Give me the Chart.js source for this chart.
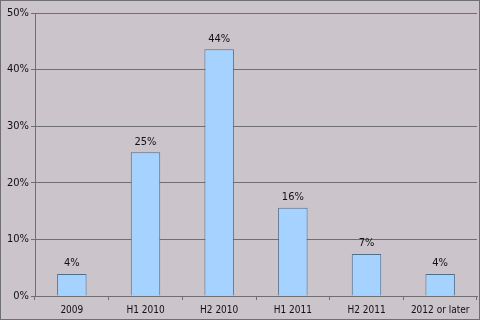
<!DOCTYPE html>
<html>
<head>
<meta charset="utf-8">
<script src="https://cdn.jsdelivr.net/npm/chart.js@4"></script>
<style>
    html, body { margin: 0; padding: 0; background: #fff; }
    #wrap { width: 478px; height: 318px; border: 1px solid #6f6f6f; background: #cbc4cb; }
</style>
</head>
<body>
<div id="wrap"><canvas id="barChart" width="478" height="318"></canvas></div>
<script>
const categories = ['2009', 'H1 2010', 'H2 2010', 'H1 2011', 'H2 2011', '2012 or later'];
const shares = [3.9, 25.4, 43.6, 15.6, 7.4, 3.9];
const yTicks = [0, 10, 20, 30, 40, 50];
const fontFamily = '"DejaVu Sans Condensed", "DejaVu Sans"';

const barLabels = {
    id: 'barLabels',
    afterDatasetsDraw(chart) {
        const ctx = chart.ctx;
        ctx.save();
        ctx.font = '11px ' + fontFamily;
        ctx.fillStyle = '#111';
        ctx.textAlign = 'center';
        ctx.textBaseline = 'bottom';
        chart.getDatasetMeta(0).data.forEach(function (bar, i) {
            ctx.fillText(Math.round(shares[i]) + '%', bar.x, bar.y - 5);
        });
        ctx.restore();
    }
};

const barCtx = document.getElementById('barChart').getContext('2d');
new Chart(barCtx, {
    type: 'bar',
    data: {
        labels: categories,
        datasets: [{
            data: shares,
            backgroundColor: '#a6d2ff',
            borderColor: '#4f6f8f',
            borderWidth: 1,
            categoryPercentage: 1,
            barPercentage: 0.4
        }]
    },
    options: {
        responsive: false,
        animation: false,
        events: [],
        layout: { padding: { top: 12, right: 2, left: 0, bottom: 0 } },
        plugins: { legend: { display: false }, tooltip: { enabled: false } },
        scales: {
            x: {
                grid: { display: true, drawOnChartArea: false, color: '#6f6f6f', tickLength: 4 },
                border: { display: true, color: '#6f6f6f' },
                ticks: { color: '#111', font: { family: fontFamily, size: 10 }, padding: 4, maxRotation: 0 },
                afterFit: function (scale) { scale.height = 23; }
            },
            y: {
                min: 0,
                max: 50,
                afterBuildTicks: function (scale) { scale.ticks = yTicks.map(v => ({ value: v })); },
                grid: { color: '#6f6f6f', tickLength: 4 },
                border: { display: true, color: '#6f6f6f' },
                ticks: {
                    color: '#111',
                    font: { family: fontFamily, size: 11 },
                    padding: 2,
                    callback: function (value) { return value + '%'; }
                },
                afterFit: function (scale) { scale.width = 34; }
            }
        }
    },
    plugins: [barLabels]
});
</script>
</body>
</html>
